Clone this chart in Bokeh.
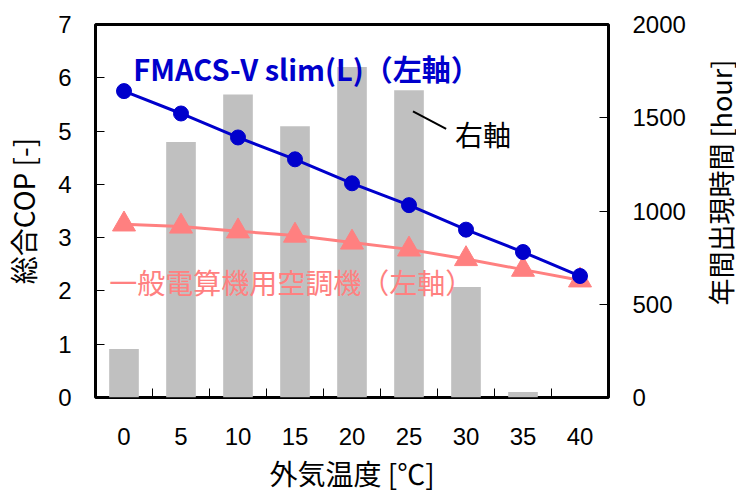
import math
from bokeh.plotting import figure
from bokeh.models import Range1d, LinearAxis, FixedTicker
from bokeh.layouts import row
from bokeh.core.properties import value
from bokeh.embed import file_html
from bokeh.resources import INLINE

temps = [0, 5, 10, 15, 20, 25, 30, 35, 40]
fmacs_cop = [5.75, 5.33, 4.88, 4.47, 4.02, 3.61, 3.15, 2.73, 2.28]
general_cop = [3.25, 3.21, 3.12, 3.04, 2.91, 2.78, 2.60, 2.40, 2.20]
hours = [260, 1370, 1625, 1455, 1772, 1648, 592, 30, 0]
x_tick_labels = ["0", "5", "10", "15", "20", "25", "30", "35", "40"]
left_ticks = [0, 1, 2, 3, 4, 5, 6, 7]
right_ticks = [0, 500, 1000, 1500, 2000]
right_title = "年間出現時間 [hour]"

JP = "Noto Sans CJK JP"
NUM = "Liberation Sans"

p = figure(width=696, height=495, output_backend="svg", toolbar_location=None,
           x_range=Range1d(-2.5, 42.5), y_range=Range1d(0, 7),
           min_border_left=93, min_border_right=88, min_border_top=24, min_border_bottom=98,
           x_axis_location="below")
p.extra_y_ranges = {"h": Range1d(0, 2000)}
p.grid.visible = False
p.outline_line_color = "black"
p.outline_line_width = 3
p.background_fill_color = "white"
p.border_fill_color = "white"

# bars (right axis)
p.vbar(x=temps, top=hours, width=2.6, y_range_name="h", color="#c0c0c0", line_color=None)

# lines
p.line(temps, general_cop, line_color="#ff8080", line_width=3)
p.scatter(temps, general_cop, marker="triangle", size=23, color="#ff8080")
p.line(temps, fmacs_cop, line_color="#0000cc", line_width=3)
p.scatter(temps, fmacs_cop, marker="circle", size=15, color="#0000cc")

# annotations
p.text(x=[0.82], y=[6.19], text=["FMACS-V slim(L)（左軸）"], text_font=value(JP),
       text_font_size="29px", text_font_style="bold", text_color="#0000cc",
       text_baseline="alphabetic", text_align="left")
p.text(x=[-1.30], y=[2.16], text=["一般電算機用空調機（左軸）"], text_font=value(JP),
       text_font_size="28px", text_color="#ff8080",
       text_baseline="middle", text_align="left")
p.text(x=[29.04], y=[4.95], text=["右軸"], text_font=value(JP),
       text_font_size="28px", text_color="black",
       text_baseline="middle", text_align="left")
p.line([25.35, 28.26], [5.37, 5.04], line_color="black", line_width=2)

# axes styling
xa = p.xaxis[0]
xa.ticker = FixedTicker(ticks=temps, minor_ticks=[2.5, 7.5, 12.5, 17.5, 22.5, 27.5, 32.5, 37.5])
xa.major_label_overrides = {t: l for t, l in zip(temps, x_tick_labels)}
xa.axis_label = "外気温度 [℃]"

ya = p.yaxis[0]
ya.ticker = FixedTicker(ticks=left_ticks)
ya.axis_label = "総合COP [-]"

ra = LinearAxis(y_range_name="h", ticker=FixedTicker(ticks=right_ticks))
p.add_layout(ra, "right")

for ax in (xa, ya, ra):
    ax.axis_line_color = None
    ax.major_label_text_font = NUM
    ax.major_label_text_font_size = "24px"
    ax.major_label_text_color = "black"
    ax.axis_label_text_font = JP
    ax.axis_label_text_font_size = "28px"
    ax.axis_label_text_font_style = "normal"
    ax.axis_label_text_color = "black"
    ax.major_tick_line_color = "black"
    ax.major_tick_line_width = 1
    ax.major_tick_in = 9
    ax.major_tick_out = 0
    ax.minor_tick_line_color = None

xa.major_tick_line_color = None
xa.minor_tick_line_color = "black"
xa.minor_tick_line_width = 1
xa.minor_tick_in = 9
xa.minor_tick_out = 0
xa.major_label_standoff = 30
xa.axis_label_standoff = 5
ya.major_label_standoff = 24
ya.axis_label_standoff = 12
ra.major_label_standoff = 24

# side strip carrying the right-axis title, reading bottom-to-top
side = figure(width=40, height=495, output_backend="svg", toolbar_location=None,
              x_range=Range1d(0, 1), y_range=Range1d(0, 1),
              min_border=0, min_border_left=0, min_border_right=0,
              min_border_top=0, min_border_bottom=0)
side.axis.visible = False
side.grid.visible = False
side.outline_line_color = None
side.text(x=[0.6], y=[0.576], text=[right_title], angle=math.pi / 2,
          text_font=value(JP), text_font_size="27px", text_color="black",
          text_align="center", text_baseline="middle")

layout = row(p, side, spacing=0)
open("out.html", "w").write(file_html(layout, INLINE))
